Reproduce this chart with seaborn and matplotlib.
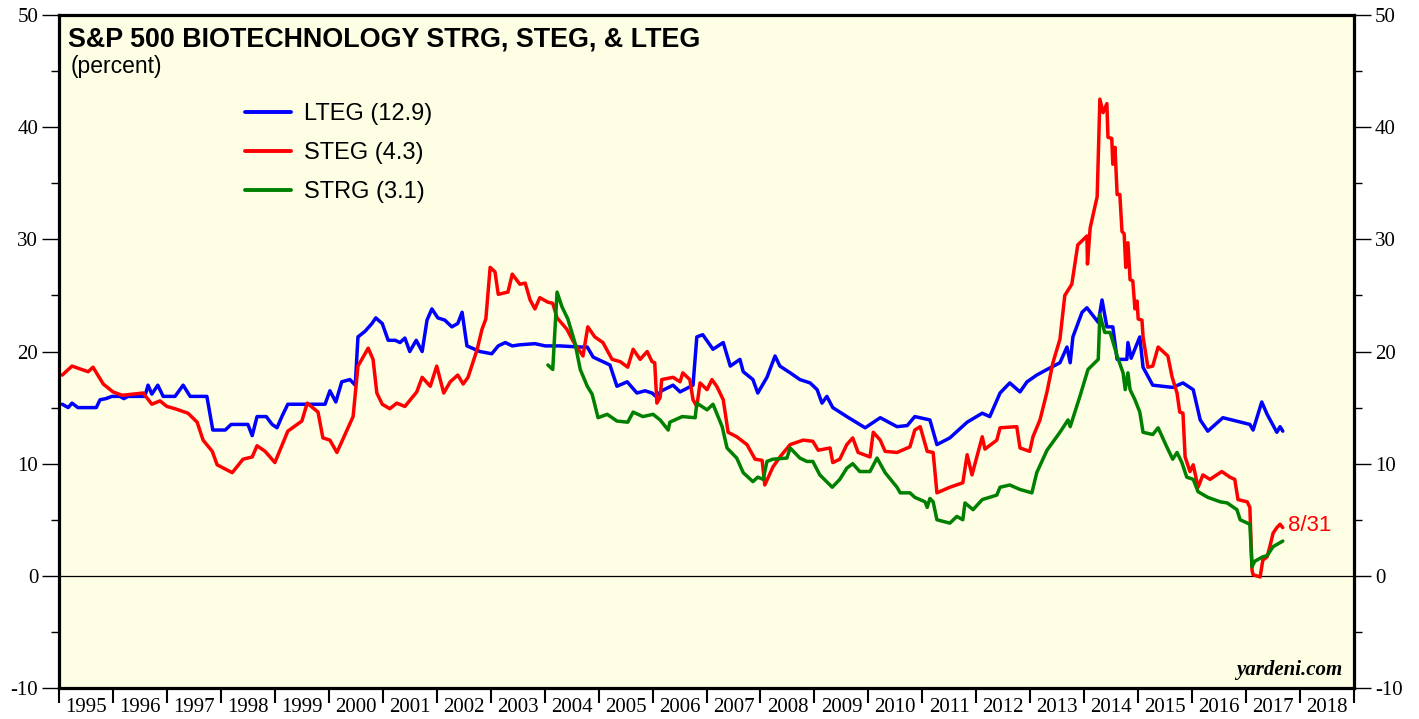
import matplotlib
matplotlib.use("Agg")
import matplotlib.pyplot as plt
from matplotlib.ticker import MultipleLocator, FixedLocator, NullFormatter
import seaborn as sns
import pandas as pd

# values (decimal year, percent)
lteg_x = [1995.06, 1995.17, 1995.24, 1995.35, 1995.57, 1995.69, 1995.76, 1995.87, 1995.98, 1996.13,
          1996.20, 1996.28, 1996.59, 1996.65, 1996.72, 1996.83, 1996.93, 1997.15, 1997.30, 1997.43,
          1997.74, 1997.85, 1998.08, 1998.19, 1998.50, 1998.58, 1998.67, 1998.84, 1998.95, 1999.04,
          1999.13, 1999.24, 1999.93, 2000.02, 2000.13, 2000.24, 2000.39, 2000.49, 2000.54, 2000.67,
          2000.80, 2000.87, 2000.99, 2001.10, 2001.23, 2001.32, 2001.41, 2001.50, 2001.62, 2001.73,
          2001.82, 2001.91, 2002.02, 2002.15, 2002.28, 2002.39, 2002.47, 2002.56, 2002.80, 2003.02,
          2003.14, 2003.27, 2003.40, 2003.54, 2003.82, 2004.01, 2004.28, 2004.66, 2004.79, 2004.90,
          2005.12, 2005.21, 2005.34, 2005.53, 2005.71, 2005.86, 2005.99, 2006.06, 2006.17, 2006.38,
          2006.51, 2006.75, 2006.82, 2006.93, 2007.12, 2007.31, 2007.44, 2007.62, 2007.68, 2007.86,
          2007.95, 2008.12, 2008.27, 2008.36, 2008.55, 2008.73, 2008.92, 2009.05, 2009.14, 2009.23,
          2009.34, 2009.60, 2009.94, 2010.22, 2010.53, 2010.72, 2010.86, 2011.14, 2011.27, 2011.51,
          2011.83, 2012.11, 2012.25, 2012.44, 2012.62, 2012.81, 2012.94, 2013.12, 2013.31, 2013.55,
          2013.68, 2013.74, 2013.79, 2013.96, 2014.05, 2014.26, 2014.33, 2014.42, 2014.53, 2014.61,
          2014.79, 2014.81, 2014.87, 2015.03, 2015.09, 2015.27, 2015.64, 2015.83, 2016.02, 2016.15,
          2016.29, 2016.57, 2017.07, 2017.13, 2017.29, 2017.39, 2017.57, 2017.63, 2017.68]
lteg_y = [15.3, 15.0, 15.4, 15.0, 15.0, 15.0, 15.7, 15.8, 16.0, 16.0,
          15.8, 16.0, 16.0, 17.0, 16.2, 17.0, 16.0, 16.0, 17.0, 16.0,
          16.0, 13.0, 13.0, 13.5, 13.5, 12.5, 14.2, 14.2, 13.5, 13.2,
          14.2, 15.3, 15.3, 16.5, 15.5, 17.3, 17.5, 17.0, 21.3, 21.8,
          22.5, 23.0, 22.5, 21.0, 21.0, 20.8, 21.2, 20.0, 21.0, 20.0,
          22.8, 23.8, 23.0, 22.8, 22.2, 22.5, 23.5, 20.5, 20.0, 19.8,
          20.5, 20.8, 20.5, 20.6, 20.7, 20.5, 20.5, 20.4, 20.4, 19.5,
          19.0, 18.8, 16.9, 17.3, 16.3, 16.5, 16.3, 16.0, 16.5, 17.0,
          16.4, 17.0, 21.3, 21.5, 20.2, 20.8, 18.7, 19.3, 18.2, 17.5,
          16.3, 17.7, 19.6, 18.7, 18.1, 17.5, 17.2, 16.6, 15.4, 16.0,
          15.0, 14.2, 13.2, 14.1, 13.3, 13.4, 14.2, 13.9, 11.7, 12.3,
          13.7, 14.5, 14.2, 16.3, 17.2, 16.4, 17.3, 17.9, 18.4, 19.0,
          20.4, 19.0, 21.3, 23.5, 23.9, 22.6, 24.6, 22.2, 22.2, 19.3,
          19.3, 20.8, 19.4, 21.3, 18.6, 17.0, 16.8, 17.2, 16.6, 13.9,
          12.9, 14.1, 13.5, 13.0, 15.5, 14.4, 12.8, 13.3, 12.9]

steg_x = [1995.06, 1995.24, 1995.54, 1995.63, 1995.82, 1996.00, 1996.17, 1996.56, 1996.72, 1996.87,
          1997.00, 1997.15, 1997.39, 1997.56, 1997.67, 1997.84, 1997.93, 1998.21, 1998.41, 1998.58,
          1998.67, 1998.82, 1999.00, 1999.24, 1999.50, 1999.60, 1999.80, 1999.89, 2000.02, 2000.15,
          2000.45, 2000.54, 2000.73, 2000.82, 2000.89, 2000.99, 2001.13, 2001.26, 2001.41, 2001.63,
          2001.73, 2001.88, 2002.00, 2002.13, 2002.25, 2002.39, 2002.49, 2002.58, 2002.75, 2002.84,
          2002.91, 2002.99, 2003.08, 2003.14, 2003.32, 2003.40, 2003.54, 2003.64, 2003.73, 2003.82,
          2003.91, 2004.06, 2004.15, 2004.23, 2004.41, 2004.53, 2004.71, 2004.80, 2004.93, 2005.08,
          2005.25, 2005.40, 2005.54, 2005.64, 2005.77, 2005.90, 2005.99, 2006.04, 2006.08, 2006.14,
          2006.17, 2006.38, 2006.51, 2006.56, 2006.69, 2006.75, 2006.82, 2006.88, 2007.01, 2007.10,
          2007.19, 2007.31, 2007.40, 2007.56, 2007.75, 2007.90, 2008.03, 2008.08, 2008.23, 2008.36,
          2008.55, 2008.79, 2008.97, 2009.07, 2009.29, 2009.34, 2009.47, 2009.60, 2009.71, 2009.81,
          2010.03, 2010.09, 2010.22, 2010.31, 2010.53, 2010.77, 2010.86, 2010.96, 2011.09, 2011.20,
          2011.27, 2011.51, 2011.75, 2011.83, 2011.92, 2012.01, 2012.11, 2012.16, 2012.38, 2012.44,
          2012.75, 2012.81, 2012.99, 2013.05, 2013.18, 2013.31, 2013.42, 2013.55, 2013.64, 2013.77,
          2013.88, 2014.05, 2014.06, 2014.11, 2014.16, 2014.24, 2014.29, 2014.35, 2014.42, 2014.44,
          2014.51, 2014.53, 2014.57, 2014.61, 2014.66, 2014.70, 2014.74, 2014.77, 2014.81, 2014.85,
          2014.90, 2014.94, 2014.98, 2015.00, 2015.07, 2015.09, 2015.18, 2015.27, 2015.37, 2015.46,
          2015.55, 2015.63, 2015.72, 2015.77, 2015.83, 2015.87, 2015.96, 2016.02, 2016.11, 2016.20,
          2016.33, 2016.55, 2016.70, 2016.79, 2016.85, 2017.02, 2017.07, 2017.11, 2017.13, 2017.26,
          2017.31, 2017.39, 2017.44, 2017.50, 2017.57, 2017.63, 2017.68]
steg_y = [17.9, 18.7, 18.2, 18.6, 17.1, 16.4, 16.1, 16.3, 15.3, 15.6,
          15.1, 14.9, 14.5, 13.7, 12.1, 11.1, 9.9, 9.2, 10.4, 10.6,
          11.6, 11.1, 10.1, 12.9, 13.8, 15.4, 14.6, 12.3, 12.1, 11.0,
          14.2, 18.7, 20.3, 19.3, 16.3, 15.3, 14.9, 15.4, 15.1, 16.4,
          17.7, 16.9, 18.7, 16.3, 17.3, 17.9, 17.1, 17.7, 20.2, 22.0,
          22.9, 27.5, 27.1, 25.1, 25.3, 26.9, 26.0, 26.1, 24.6, 23.8,
          24.8, 24.4, 24.3, 23.0, 22.0, 20.9, 19.6, 22.2, 21.3, 20.8,
          19.3, 19.1, 18.6, 20.2, 19.3, 20.0, 19.1, 19.0, 15.4, 15.9,
          17.5, 17.7, 17.3, 18.1, 17.5, 15.7, 15.1, 17.2, 16.6, 17.5,
          16.9, 15.7, 12.8, 12.4, 11.7, 10.4, 10.3, 8.1, 9.7, 10.6,
          11.7, 12.1, 12.0, 11.2, 11.4, 10.1, 10.4, 11.7, 12.3, 11.0,
          10.6, 12.8, 12.1, 11.1, 11.0, 11.5, 13.0, 13.3, 11.1, 11.0,
          7.4, 7.9, 8.3, 10.8, 9.0, 10.6, 12.4, 11.3, 12.1, 13.2,
          13.3, 11.4, 11.1, 12.4, 13.9, 16.4, 19.0, 21.1, 25.0, 26.0,
          29.5, 30.3, 27.8, 31.0, 32.1, 33.8, 42.5, 41.3, 42.1, 39.1,
          39.0, 36.7, 38.2, 34.0, 34.0, 30.7, 30.5, 27.5, 29.7, 26.4,
          26.3, 23.8, 24.5, 22.9, 22.8, 21.3, 18.6, 18.7, 20.4, 20.0,
          19.6, 17.7, 16.3, 14.6, 14.5, 10.6, 9.3, 9.9, 7.9, 9.0,
          8.6, 9.3, 8.8, 8.6, 6.8, 6.6, 6.1, 0.5, 0.1, -0.1,
          1.4, 1.7, 2.6, 3.8, 4.3, 4.6, 4.3]

strg_x = [2004.06, 2004.15, 2004.23, 2004.32, 2004.43, 2004.56, 2004.66, 2004.79, 2004.88, 2004.99,
          2005.16, 2005.34, 2005.54, 2005.64, 2005.82, 2006.01, 2006.14, 2006.29, 2006.32, 2006.55,
          2006.79, 2006.82, 2007.01, 2007.12, 2007.29, 2007.38, 2007.56, 2007.68, 2007.86, 2007.95,
          2008.05, 2008.12, 2008.23, 2008.49, 2008.55, 2008.73, 2008.86, 2008.97, 2009.10, 2009.33,
          2009.47, 2009.60, 2009.71, 2009.84, 2010.03, 2010.16, 2010.31, 2010.53, 2010.59, 2010.77,
          2010.86, 2011.05, 2011.09, 2011.14, 2011.20, 2011.27, 2011.51, 2011.64, 2011.75, 2011.79,
          2011.94, 2012.11, 2012.38, 2012.44, 2012.62, 2012.81, 2013.03, 2013.12, 2013.31, 2013.55,
          2013.70, 2013.74, 2013.92, 2014.07, 2014.26, 2014.29, 2014.38, 2014.48, 2014.61, 2014.72,
          2014.76, 2014.81, 2014.85, 2014.94, 2015.03, 2015.09, 2015.27, 2015.37, 2015.53, 2015.64,
          2015.72, 2015.81, 2015.90, 2016.02, 2016.11, 2016.29, 2016.52, 2016.65, 2016.83, 2016.89,
          2017.07, 2017.11, 2017.16, 2017.31, 2017.39, 2017.50, 2017.68]
strg_y = [18.8, 18.4, 25.3, 24.0, 22.9, 20.8, 18.4, 16.9, 16.2, 14.1,
          14.4, 13.8, 13.7, 14.6, 14.2, 14.4, 13.9, 13.0, 13.7, 14.2,
          14.1, 15.4, 14.8, 15.3, 13.3, 11.4, 10.5, 9.2, 8.4, 8.8,
          8.6, 10.2, 10.4, 10.5, 11.4, 10.5, 10.2, 10.2, 9.0, 7.9,
          8.6, 9.6, 10.0, 9.3, 9.3, 10.5, 9.2, 7.9, 7.4, 7.4,
          7.0, 6.6, 6.1, 6.9, 6.6, 5.0, 4.7, 5.3, 5.0, 6.5,
          5.9, 6.8, 7.2, 7.9, 8.1, 7.7, 7.4, 9.2, 11.2, 12.8,
          13.9, 13.3, 16.0, 18.4, 19.3, 23.3, 21.7, 21.7, 19.6, 18.1,
          16.6, 18.1, 16.6, 15.7, 14.6, 12.8, 12.6, 13.2, 11.5, 10.4,
          11.0, 10.1, 8.8, 8.6, 7.5, 7.0, 6.6, 6.5, 5.9, 5.0,
          4.6, 0.8, 1.3, 1.7, 1.8, 2.6, 3.1]

series_names = ["LTEG", "STEG", "STRG"]
series_colors = ["#0000FF", "#FF0000", "#008000"]
series_latest = [12.9, 4.3, 3.1]
year_labels = [str(y) for y in range(1995, 2019)]

sns.set_style("ticks")
plt.rcParams["font.family"] = ["Liberation Serif", "DejaVu Serif"]
plt.rcParams["axes.unicode_minus"] = False
plt.rcParams["text.color"] = "black"
plt.rcParams["xtick.color"] = "black"
plt.rcParams["ytick.color"] = "black"

fig = plt.figure(figsize=(14.19, 7.19), dpi=100)
ax = fig.add_axes([0.0416, 0.0431, 0.9126, 0.9360])
ax.set_facecolor("#FEFEE4")

all_x = [lteg_x, steg_x, strg_x]
all_y = [lteg_y, steg_y, strg_y]
for name, xs, ys, col, last in zip(series_names, all_x, all_y, series_colors, series_latest):
    df = pd.DataFrame({"year": xs, "value": ys})
    sns.lineplot(data=df, x="year", y="value", ax=ax, color=col, linewidth=2.5,
                 estimator=None, sort=False, label=f"{name} ({last})")

ax.axhline(0, color="black", linewidth=0.9, zorder=1)

ax.set_xlim(1995, 2019)
ax.set_ylim(-10, 50)
ax.set_xlabel("")
ax.set_ylabel("")

# x axis: ticks at year boundaries, labels centred in each year
ax.xaxis.set_major_locator(MultipleLocator(1))
ax.xaxis.set_major_formatter(NullFormatter())
ax.xaxis.set_minor_locator(FixedLocator([y + 0.5 for y in range(1995, 2019)]))
ax.set_xticklabels(year_labels, minor=True)
ax.tick_params(axis="x", which="major", direction="out", length=11, width=1.5)
ax.tick_params(axis="x", which="minor", length=0, pad=7, labelsize=15)

ax.yaxis.set_major_locator(MultipleLocator(10))
ax.yaxis.set_minor_locator(MultipleLocator(5))
ax.tick_params(axis="y", which="both", left=True, right=True, labelleft=True, labelright=True,
               direction="out", width=1.0, labelsize=15)
ax.tick_params(axis="y", which="major", length=12, pad=3)
ax.tick_params(axis="y", which="minor", length=6)

for s in ax.spines.values():
    s.set_visible(True)
    s.set_linewidth(2.3)
    s.set_color("black")

leg = ax.legend(loc="upper left", bbox_to_anchor=(0.1436, 0.869), frameon=False,
                prop={"family": "Liberation Sans", "size": 17}, handlelength=1.95,
                handletextpad=0.55, labelspacing=0.72, borderpad=0, borderaxespad=0)
for line in leg.get_lines():
    line.set_linewidth(2.8)

ax.text(0.007, 0.983, "S&P 500 BIOTECHNOLOGY STRG, STEG, & LTEG", transform=ax.transAxes,
        ha="left", va="top", fontsize=19.4, fontweight="bold", family="Liberation Sans")
ax.text(0.009, 0.941, "(percent)", transform=ax.transAxes, ha="left", va="top",
        fontsize=16.5, family="Liberation Sans")
ax.text(0.991, 0.012, "yardeni.com", transform=ax.transAxes, ha="right", va="bottom",
        fontsize=15, fontweight="bold", fontstyle="italic", family="Liberation Serif")
ax.text(steg_x[-1] + 0.1, steg_y[-1] + 0.2, "8/31", color="#FF0000", ha="left", va="center",
        fontsize=16, family="Liberation Sans")

fig.savefig("out.png", dpi=100, facecolor="white")
